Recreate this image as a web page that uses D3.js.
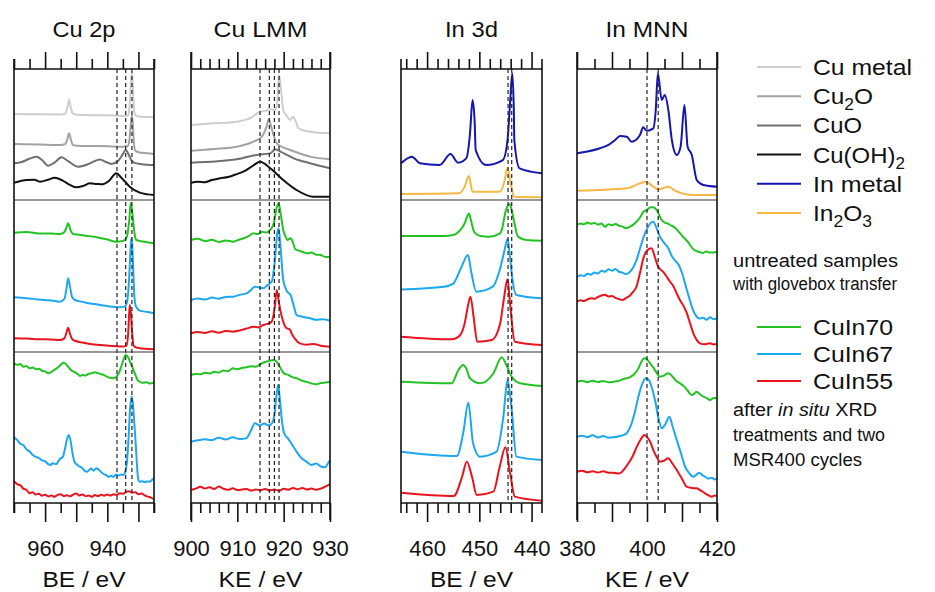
<!DOCTYPE html>
<html>
<head>
<meta charset="utf-8">
<script src="https://cdn.jsdelivr.net/npm/d3@7"></script>
<style>
  body { margin: 0; background: #fff; }
  svg { display: block; font-family: "Liberation Sans", Arial, Helvetica, sans-serif; }
</style>
</head>
<body>
<svg id="chart" width="935" height="592"></svg>
<script>
// ---------- Spectra: [energy (eV), stacked intensity (% of row height)] ----------

// Cu 2p – references
const cu2pCuMetal = [[970,65.6],[962,65.4],[955,65.3],[953.6,65.8],[952.9,70],[952.3,76.3],[951.7,70],[951.1,66],[949.5,65],[940,64.6],[935,64.2],[933.4,64.5],[932.9,70],[932.5,88],[932.1,97],[931.8,88],[931.5,72],[931.1,65],[930,63.8],[927,63.3],[925,63.1]];
const cu2pCu2O = [[970,42.7],[962,42.3],[955,42],[953.6,42.5],[952.9,46],[952.3,50.9],[951.7,46],[951.1,42],[949.5,41.5],[940,41],[935,40.7],[933.5,41],[932.9,46],[932.5,57],[932.1,64.9],[931.8,58],[931.5,45],[931.1,38],[930,36.5],[927,35.6],[925,35.1]];
const cu2pCuO = [[970,28],[967.5,29],[965,31.5],[962.7,33],[961,30.5],[959,26.2],[957,28.5],[954.7,32.6],[952.5,29.5],[949.4,25.4],[946,27.5],[942.4,31],[940.5,29],[938.7,27.5],[936.5,30],[935,35],[934.1,38.2],[933.2,35],[932.3,30.5],[931.5,28.5],[929,27.3],[925,26.7]];
const cu2pCuOH2 = [[970,13.2],[965.9,15.3],[963.5,15.5],[961.7,14],[959,15.5],[956.9,17],[954.5,15],[952,11.5],[949.9,9.7],[947.5,11],[945.6,12.7],[943.5,12.3],[941.4,12],[939.5,14.5],[937.1,20.4],[935.5,17],[932.8,10.2],[929.6,5.6],[927,4.3],[925,3.8]];
// Cu 2p – untreated samples
const cu2pIn70a = [[970,78.5],[966,78.9],[962,78],[958,77.9],[955.5,77.6],[954,78.5],[953.2,81.5],[952.6,84.7],[951.8,80],[951,77.6],[949,77.2],[947,76.5],[944.5,75.9],[942.4,75],[940,74],[937.1,72.6],[935,73],[934,74.5],[933.4,79],[932.9,88],[932.5,98.2],[932.1,94],[931.6,84],[931.1,76],[930.7,73.7],[928,72.5],[925,71.5]];
const cu2pIn67a = [[970,36],[966,35.4],[962,34.5],[958,33.9],[955.3,33.1],[953.8,35],[953.1,42],[952.6,48.5],[952,43],[951.3,36],[950.4,34.2],[948,33],[946,32],[944,31.6],[942.4,30.9],[939,30],[936,29.4],[934.3,30],[933.5,35],[933,48],[932.6,65],[932.3,74.8],[932,70],[931.6,50],[931.3,36],[930.8,30],[929.6,27.2],[927,26.3],[925,25.5]];
const cu2pIn55a = [[970,9],[966,8.8],[962,8.4],[958,8.2],[955.3,7.9],[953.8,9],[953.1,13],[952.6,16],[952,12],[951.3,8.5],[950.4,7.4],[948,6.2],[946,5.5],[942.4,4.6],[938,4],[935,3.6],[933.9,4],[933.3,12],[932.8,30.9],[932.4,25],[932,12],[931.5,4],[930,2.6],[925,1.8]];
// Cu 2p – after treatments
const cu2pIn70b = [[970,92.5],[969,91.5],[968,92],[967,90.2],[966,90.8],[965,89.2],[964,89.8],[963,88.6],[962,88.9],[961,87.6],[960,87.2],[959,85.9],[958,86.8],[957,88.2],[956,89.6],[955,91.5],[954.2,92.9],[953.5,92.4],[952.5,90],[951.5,87.8],[950.5,86.6],[949.5,85.4],[948.8,84.1],[948,84.8],[947,84.4],[946,85.6],[945,85.9],[944,86.6],[943,86],[942,85.3],[941,84.7],[940,83.5],[939,82.9],[938.2,82.6],[937.2,83.5],[936.3,86],[935.5,90.5],[934.8,95],[934.1,98],[933.3,96.5],[932.6,93],[931.8,89.2],[931,85],[930.3,81.5],[929.6,80.3],[928.5,79.6],[927.5,80],[926.5,79.2],[925,79.6]];
const cu2pIn67b = [[970,43.5],[969,41.8],[968,39.2],[967,38.4],[966,35.5],[965,34.2],[964,31.8],[963,30.6],[962,29.8],[961,28.2],[960,27.6],[959,25.8],[958.3,25.2],[957.5,26.4],[956.5,25.6],[955.8,27.5],[955,29.6],[954.3,30.5],[953.6,36],[953,42],[952.4,45],[951.8,41],[951.2,33],[950.5,27],[949.8,25.6],[949,24.2],[948.2,23.4],[947.4,21.6],[946.7,20.7],[946,21.5],[945.2,22.8],[944.4,21.4],[943.6,23],[942.8,22.2],[942,20.5],[941.2,19.2],[940.4,18.6],[939.6,17.2],[938.8,18],[938,17.4],[937.2,18.8],[936.4,18.2],[935.6,18.9],[934.8,18.6],[934.2,21],[933.7,27],[933.2,42],[932.7,62],[932.2,70.4],[931.8,66],[931.3,52],[930.9,40],[930.5,26],[930.1,16],[929.6,14.1],[928.8,14.4],[928,13.8],[927.2,14.3],[926.4,14.1],[925.7,15.2],[925,16.4]];
const cu2pIn55b = [[970,14.5],[969,12.5],[968,11.8],[967,9.5],[966,8.8],[965,6.4],[964,7.2],[963,5.6],[962,6.1],[961,4.8],[960,5.5],[959,4.3],[958,5],[957,4.1],[956,5.4],[955,5.8],[954,4.6],[953,5.2],[952,4.4],[951,5.6],[950,6.3],[949,5],[948,5.7],[947,4.5],[946,4.9],[945,4.1],[944,5.3],[943,4.6],[942,5.5],[941,4.8],[940,5.6],[939,4.9],[938,5.8],[937,5.2],[936,6.4],[935,6.1],[934,7.4],[933,7.8],[932,6.9],[931,7.2],[930,5.8],[929,6.3],[928,5.1],[927,4.2],[926,3.6],[925,2.5]];

// Cu LMM – references
const lmmCuMetal = [[900,57.3],[905,58.5],[909.9,59.8],[913.1,63.1],[914.9,67.4],[916,68],[917.1,69.2],[918.2,68.5],[918.6,75],[919,95.4],[919.5,82],[919.9,68.7],[920.7,64],[921.4,61],[922,63.6],[922.6,60],[923.2,54.7],[925.7,52.1],[930,50.9]];
const lmmCu2O = [[900,37.6],[905,39],[909.9,40.7],[913.5,44.5],[915.3,48.3],[916.3,56],[916.8,61.6],[917.4,54.7],[918.5,43.3],[920,40],[921.4,38.2],[925.7,33.1],[930,31.1]];
const lmmCuO = [[900,28.5],[909.9,31.1],[914.2,34.4],[917.1,35.6],[918.2,38.7],[919.3,36.9],[922.2,31.8],[925.7,28],[930,24.2]];
const lmmCuOH2 = [[900,13.2],[901.5,14],[903,13.6],[904.5,15.2],[906.3,16.6],[908,17.5],[909.5,19.3],[911.3,21.6],[913.5,26.5],[914.9,29.2],[917.1,24.2],[919.9,15.3],[922.8,7.6],[926.4,2.5],[930,2.5]];
// Cu LMM – untreated samples
const lmmIn70a = [[900,73.7],[901.5,74.5],[903,72.9],[904.5,73.8],[906,72.4],[907.5,73.4],[909.1,72.6],[910.3,73.8],[911.5,75],[912.5,76.4],[913.5,78.1],[914.4,77.6],[915.3,79.1],[916.2,78.6],[917.1,80.3],[917.9,85],[918.5,95],[918.9,97.8],[919.4,90],[919.9,80.3],[920.4,76],[920.8,73.7],[921.5,74.8],[922,72],[922.5,67.6],[923.5,66.5],[924.3,65.6],[925,64.9],[926,65.4],[927,64],[928,63.8],[929,62.5],[930,62.7]];
const lmmIn67a = [[900,34.2],[901.5,35.2],[903,34.5],[904.5,35.8],[906,35.1],[907.5,36.2],[909.1,36.4],[910.5,37.6],[912,38.6],[913,41],[913.8,43],[914.7,42.5],[915.6,41.9],[916.5,44],[917.4,46.2],[918.1,60],[918.6,78],[918.9,81.4],[919.3,70],[919.9,47.4],[920.7,40],[921.5,37.5],[922.2,30],[922.8,24.3],[923.6,23.5],[924.5,22.8],[925.7,22.2],[927,21.2],[928.5,21.6],[930,20.6]];
const lmmIn55a = [[900,12.3],[901.5,13.1],[903,12.5],[904.5,13.6],[906,12.7],[907.5,13.8],[909.1,13.4],[910.5,14.2],[912,15.4],[913.5,16.6],[914.5,16.2],[915.6,17.8],[916.5,18.5],[917.4,19.9],[918.1,30],[918.5,40.8],[919,32],[919.6,23.2],[920.5,16],[921.4,14.5],[921.7,12.3],[922.5,8.5],[923.5,5.7],[925,4.8],[926.5,5.3],[928,4.1],[930,3.5]];
// Cu LMM – after treatments
const lmmIn70b = [[900,84.8],[901,85.5],[902,85.2],[903,86.3],[904,85.8],[905,86.9],[906,86.4],[907,87.8],[908,87.2],[909,89.2],[910,88.6],[911,89.4],[912,89.9],[913,90.6],[914,90.2],[915,92.1],[916,93.4],[917,94.2],[917.8,94.7],[918.5,93.5],[919.2,90],[920,86],[921,84.8],[922,83.2],[923,82.4],[924,81],[925,80.2],[926,79.2],[927,78.6],[928,79.4],[929,79.8],[930,80.3]];
const lmmIn67b = [[900,40.6],[901.5,41.5],[903,42.2],[904.5,41.6],[906,43.2],[907.5,42.1],[909,43.6],[910.5,42.4],[911.9,42.8],[912.8,47],[913.8,52.8],[914.8,51.4],[915.8,52.6],[916.8,51.3],[917.5,53],[918,58],[918.4,70],[918.8,78.1],[919.2,68],[919.6,55],[920.1,46.2],[921,42.5],[922.1,37.3],[923,33],[923.8,29.8],[924.8,27.6],[926,25.2],[927,26.1],[928,24.2],[928.9,23.6],[929.5,25.8],[930,28.5]];
const lmmIn55b = [[900,8.6],[901,9.5],[902,10.8],[903,9.6],[904,10.4],[905,9.2],[906,10.9],[907,9.4],[908,8.7],[909,9.8],[910,8.6],[911,8.9],[912,9.3],[913,8.2],[914,8.9],[915,8.5],[916,9.2],[917,8.3],[918,8.9],[919,8.1],[920,9.4],[921,8.8],[922,9.9],[923,9.1],[924,10],[925,8.9],[926,9.6],[927,8.8],[928,9.5],[929,10.8],[930,12.6]];

// In 3d – references
const in3dInMetal = [[465,28],[462.9,33.1],[461.4,28],[457.6,26.7],[455.5,35.1],[454.1,28.5],[452.5,31.8],[451.8,50],[451.3,76.3],[450.9,60],[450.7,38.2],[448.7,26.7],[445.5,30.5],[444.6,45.8],[444.1,75],[443.7,96.7],[443.4,70],[443.3,45.8],[442.3,24.2],[438,20.4]];
const in3dIn2O3 = [[465,4.6],[453.8,5.1],[452.8,10.2],[452,18.3],[451.3,6.3],[446.1,6.3],[445.2,14],[444.6,24.7],[443.9,10.2],[443.3,2.5],[438,2.1]];
// In 3d – untreated samples
const in3dIn70a = [[465,76.3],[456.7,76.3],[455,77],[452.8,84.7],[452,91.2],[451.7,88],[451,79.1],[450,76.5],[448.1,75.9],[446,78],[445.7,80.3],[444.9,93.4],[444.2,97.4],[443.6,90.1],[442.6,75.9],[441,73.7],[438,73.2]];
const in3dIn67a = [[465,41.2],[456.7,43],[455,45],[453.4,56.1],[452.2,63.8],[451.5,51.8],[450.6,39.7],[447.4,43],[446.1,53.9],[445.3,65],[444.6,74.1],[444.2,65],[443.8,51.8],[442.9,37.5],[438,35.3]];
const in3dIn55a = [[465,10.1],[455.4,8.4],[454,10],[452.8,18.9],[452.2,30],[451.7,36.4],[451.1,23.2],[450.4,6.8],[447.6,7.9],[446,18.9],[445.3,35],[444.6,47.8],[444.2,35],[444,27.6],[443.2,6.8],[438,4.6]];
// In 3d – after treatments
const in3dIn70b = [[465,80.3],[455.3,79.3],[454,88.1],[453.1,91.4],[452.5,89],[451.8,82.6],[449.8,79.3],[447.3,85.9],[445.7,96.5],[444.7,90.3],[443.8,83.6],[442.2,79.3],[438,77.5]];
const in3dIn67b = [[465,34],[454.3,31.1],[453.1,46.2],[452.1,66.4],[451.2,39.5],[449.9,30.7],[446.7,34],[445.4,57.2],[444.6,81.5],[443.8,61.6],[442.9,30.7],[438,28.5]];
const in3dIn55b = [[465,6.8],[454.9,4.6],[453.3,17.4],[452.4,27.4],[451.4,17.4],[450.5,5.3],[447.3,7.5],[446.1,24],[445,36.9],[444.1,19.7],[443.2,4.2],[438,1.5]];

// In MNN – references
const mnnInMetal = [[380,35.6],[383,37],[386.6,39.5],[389,42],[390.9,45.8],[392.3,48.9],[394.2,48.3],[395.6,44.5],[398,49.6],[398.9,55.5],[399.9,52.9],[401.8,54.7],[402.5,68.7],[403.1,96.7],[404.2,76.3],[405.1,80.2],[406.1,68.7],[407.1,45.8],[408.5,34.4],[409.6,40.7],[410.7,72.5],[411.6,40.7],[412.8,34.4],[414.2,15.3],[416.1,11.5],[420,10.2]];
const mnnIn2O3 = [[380,7.1],[394.2,8.9],[398,12.7],[399.7,14],[401.8,10.2],[403.2,8.2],[406.1,10.2],[408,7.1],[413.2,3.8],[420,3.8]];
// In MNN – untreated samples
const mnnIn70a = [[380,83.6],[381,84.5],[382,84],[383,85.2],[384,84.3],[385,84.9],[386,83.8],[387,84.6],[388,82.4],[389,84.1],[390,83.4],[391,84.2],[392,83.1],[393,82.5],[394,81.4],[395,82.3],[396,83.6],[397,85.7],[398,88.5],[399,92.3],[400,93.5],[401,95.2],[402,95],[403,92.4],[404,87.5],[405,85.2],[406,84.4],[407,83.1],[408,81.8],[409,79.2],[410,76.6],[411,74.2],[412,71.5],[413,68.2],[414,66.5],[415,65.8],[416,65.2],[417,66.1],[418,65.4],[419,65.5],[420,66]];
const mnnIn67a = [[380,49.1],[381,50.5],[382,50],[383,51.4],[384,50.9],[385,52.3],[386,51.6],[387,53.4],[388,52.8],[389,54.4],[390,53.5],[391,54.6],[392,52.8],[393,52.2],[394,51.3],[395,52.5],[396,55.5],[397,60.5],[398,68],[399,75.5],[400,81],[401,84.8],[401.8,85.7],[402.8,81],[403.7,75.9],[405,71.5],[406,68.6],[407,63.5],[408,60.2],[409,57.5],[410,52],[411,44],[412,36],[413,28.6],[414,23.8],[415,22],[416,22.6],[417,21.2],[418,22.8],[419,21.6],[420,22.2]];
const mnnIn55a = [[380,33.1],[381,34],[382,33.5],[383,34.6],[384,35.4],[385,35],[386,36.2],[387,37.2],[388,37.6],[389,36.5],[390,36.9],[391,35.6],[392,34.8],[393,34.2],[394,35.5],[395,36.8],[396,39.5],[397,43],[398,52],[399,62],[400,66.8],[401.3,68.2],[402.3,62],[403.2,56.1],[404.5,53],[405.5,50],[406.6,46.2],[407.5,43.5],[408.5,38.5],[409.4,34.2],[410.5,30],[411.3,26],[412.3,18.9],[413.3,12],[414.2,8],[415.1,5.7],[416.5,5.1],[418,5.8],[419,5],[420,5.3]];
// In MNN – after treatments
const mnnIn70b = [[380,80.3],[381.5,80.9],[383,80],[384.5,81],[386,80.1],[387.5,80.8],[389,79.9],[390.4,80.3],[392,81],[393.5,82.3],[395,83.2],[396.1,84.8],[397.5,89],[398.4,93.6],[399.2,95.8],[400,95],[400.9,92.5],[402,89],[403,85.5],[403.7,83.6],[404.8,84.4],[406.1,85.9],[407.2,84],[408.3,81],[409.4,79.3],[410.5,77.4],[411.6,74.5],[412.8,71.5],[413.5,72.4],[414.2,73.7],[415.1,72],[416.1,70.4],[417,69.6],[418,68.2],[419,69.6],[420,69.3]];
const mnnIn67b = [[380,43.9],[381.5,44.6],[383,43.6],[384.5,44.8],[386,43.4],[387.5,44.3],[389,43.2],[390.4,43.5],[392,44.2],[393.2,44.9],[394.2,46.2],[395.5,52],[396.5,60],[397.5,70],[398.5,78],[399.6,82.6],[400.5,81.5],[401.3,77],[402.3,68],[403.3,56],[404.2,49.5],[405.2,52],[406.4,57.2],[407.4,50],[408.5,41.7],[409.7,33],[410.9,24],[412,20],[413.2,17.4],[414,18.5],[414.9,20.1],[415.8,18.5],[416.6,17.4],[417.5,16.2],[418.5,16.8],[419.3,15.6],[420,16.4]];
const mnnIn55b = [[380,20.7],[381.5,21.4],[383,20.3],[384.5,21.1],[386,20.2],[387.5,21],[389,20.1],[390.4,20.1],[391.5,19.6],[392.3,19.7],[393.5,22.5],[394.7,26.3],[395.9,31],[397.1,37.3],[398.2,42],[399.2,45],[400.1,43.5],[400.9,40.6],[402,34],[403,29.5],[403.7,27.4],[404.8,28],[406.1,29.6],[407.3,26],[408.5,21.9],[410,16],[411.3,10.8],[412.8,9.9],[414.2,9.7],[415.4,8.2],[416.6,6.4],[417.6,5.1],[418.5,4.2],[419.3,5],[420,4.6]];

// ---------- Axes: energy ranges, ticks, labels, reference energies ----------
const titles = ["Cu 2p", "Cu LMM", "In 3d", "In MNN"];
const axisTitles = ["BE / eV", "KE / eV", "BE / eV", "KE / eV"];
const domains = [[970, 925], [900, 930], [465, 438], [380, 420]];
const majorTicks = [[960, 950, 940, 930], [900, 910, 920, 930], [460, 450, 440], [380, 390, 400, 410, 420]];
const minorTicks = [[970, 965, 955, 945, 935, 925], [902, 904, 906, 908, 912, 914, 916, 918, 922, 924, 926, 928], [464, 462, 458, 456, 454, 452, 448, 446, 444, 442], [385, 395, 405, 415]];
const tickLabels = [[960, 940], [900, 910, 920, 930], [460, 450, 440], [380, 400, 420]];
const refLines = [[936.9, 934.1, 932.1], [914.9, 916.9, 918.0, 919.0], [444.5, 443.8], [400.0, 403.2]];

const refNames = ["Cu metal", "Cu2O", "CuO", "Cu(OH)2", "In metal", "In2O3"];
const sampleNames = ["CuIn70", "CuIn67", "CuIn55"];

// ---------- Styling ----------
const colors = {
  cuMetal: "#cdcdcd", cu2O: "#a3a3a3", cuO: "#707070", cuOH2: "#111111",
  inMetal: "#1515b0", in2O3: "#f6b845",
  in70: "#22c322", in67: "#1ca7ef", in55: "#e8141e"
};

const series = [
  [ [cu2pCuMetal, 0, colors.cuMetal], [cu2pCu2O, 0, colors.cu2O], [cu2pCuO, 0, colors.cuO], [cu2pCuOH2, 0, colors.cuOH2],
    [cu2pIn70a, 1, colors.in70], [cu2pIn67a, 1, colors.in67], [cu2pIn55a, 1, colors.in55],
    [cu2pIn70b, 2, colors.in70], [cu2pIn67b, 2, colors.in67], [cu2pIn55b, 2, colors.in55] ],
  [ [lmmCuMetal, 0, colors.cuMetal], [lmmCu2O, 0, colors.cu2O], [lmmCuO, 0, colors.cuO], [lmmCuOH2, 0, colors.cuOH2],
    [lmmIn70a, 1, colors.in70], [lmmIn67a, 1, colors.in67], [lmmIn55a, 1, colors.in55],
    [lmmIn70b, 2, colors.in70], [lmmIn67b, 2, colors.in67], [lmmIn55b, 2, colors.in55] ],
  [ [in3dInMetal, 0, colors.inMetal], [in3dIn2O3, 0, colors.in2O3],
    [in3dIn70a, 1, colors.in70], [in3dIn67a, 1, colors.in67], [in3dIn55a, 1, colors.in55],
    [in3dIn70b, 2, colors.in70], [in3dIn67b, 2, colors.in67], [in3dIn55b, 2, colors.in55] ],
  [ [mnnInMetal, 0, colors.inMetal], [mnnIn2O3, 0, colors.in2O3],
    [mnnIn70a, 1, colors.in70], [mnnIn67a, 1, colors.in67], [mnnIn55a, 1, colors.in55],
    [mnnIn70b, 2, colors.in70], [mnnIn67b, 2, colors.in67], [mnnIn55b, 2, colors.in55] ]
];

// ---------- Layout ----------
const panelX = [[14, 154], [191, 330], [401, 542], [577, 717]];
const edgeTickLen = [10, 17, 10, 17];
const rowBands = [[69, 200], [200, 352], [352, 503]];
const frameTop = 69, frameBottom = 503;
const majorLenTop = 17, minorLenTop = 10, majorLenBottom = 19, minorLenBottom = 10;
const titleWidths = [63, 94, 53, 83];
const axisTitleWidths = [83, 84, 83, 84];

const svg = d3.select("#chart");

titles.forEach((title, i) => {
  const x = d3.scaleLinear().domain(domains[i]).range(panelX[i]);
  const ys = rowBands.map(([t, b]) => d3.scaleLinear().domain([0, 100]).range([b, t]));
  const g = svg.append("g");
  const [x0, x1] = panelX[i];

  // panel title
  g.append("text").attr("x", (x0 + x1) / 2).attr("y", 37)
    .attr("text-anchor", "middle").attr("font-size", 21.5).attr("fill", "#111")
    .attr("textLength", titleWidths[i]).attr("lengthAdjust", "spacingAndGlyphs").text(title);

  // spectra
  series[i].forEach(([data, row, color]) => {
    const pts = data.slice().sort((a, b) => x(a[0]) - x(b[0]));
    const line = d3.line().x(d => x(d[0])).y(d => ys[row](d[1])).curve(d3.curveMonotoneX);
    g.append("path").attr("d", line(pts)).attr("fill", "none")
      .attr("stroke", color).attr("stroke-width", 2).attr("stroke-linejoin", "round");
  });

  // reference energies
  refLines[i].forEach(e => {
    g.append("line").attr("x1", x(e)).attr("x2", x(e)).attr("y1", frameTop).attr("y2", frameBottom)
      .attr("stroke", "#222").attr("stroke-width", 1.2).attr("stroke-dasharray", "4,3");
  });

  // row separators
  [200, 352].forEach(yy => {
    g.append("line").attr("x1", x0).attr("x2", x1).attr("y1", yy).attr("y2", yy)
      .attr("stroke", "#333").attr("stroke-width", 1.2);
  });

  // frame (sides extend as edge ticks)
  [x0, x1].forEach(xx => {
    g.append("line").attr("x1", xx).attr("x2", xx)
      .attr("y1", frameTop - edgeTickLen[i]).attr("y2", frameBottom + edgeTickLen[i])
      .attr("stroke", "#111").attr("stroke-width", 1.6);
  });

  // top and bottom axes
  const topMajor = d3.axisTop(x).tickValues(majorTicks[i]).tickSize(majorLenTop).tickSizeOuter(0).tickFormat("");
  const topMinor = d3.axisTop(x).tickValues(minorTicks[i]).tickSize(minorLenTop).tickSizeOuter(0).tickFormat("");
  const bottomMajor = d3.axisBottom(x).tickValues(majorTicks[i]).tickSize(majorLenBottom).tickSizeOuter(0)
    .tickPadding(18).tickFormat(d => tickLabels[i].includes(d) ? d : "");
  const bottomMinor = d3.axisBottom(x).tickValues(minorTicks[i]).tickSize(minorLenBottom).tickSizeOuter(0).tickFormat("");

  [[topMajor, frameTop], [topMinor, frameTop], [bottomMajor, frameBottom], [bottomMinor, frameBottom]].forEach(([ax, yy]) => {
    const a = g.append("g").attr("transform", `translate(0,${yy})`).call(ax);
    a.select(".domain").remove();
    a.selectAll(".tick line").attr("stroke", "#111").attr("stroke-width", 1.6);
    a.selectAll(".tick text").attr("font-size", 22).attr("fill", "#111")
      .attr("font-family", "'Liberation Sans', Arial, sans-serif");
  });

  // horizontal frame lines
  [frameTop, frameBottom].forEach(yy => {
    g.append("line").attr("x1", x0).attr("x2", x1).attr("y1", yy).attr("y2", yy)
      .attr("stroke", "#111").attr("stroke-width", 1.6);
  });

  // axis title
  g.append("text").attr("x", (x0 + x1) / 2).attr("y", 587)
    .attr("text-anchor", "middle").attr("font-size", 22).attr("fill", "#111")
    .attr("textLength", axisTitleWidths[i]).attr("lengthAdjust", "spacingAndGlyphs").text(axisTitles[i]);
});

// ---------- Legends ----------
const legend = svg.append("g");
const refColors = [colors.cuMetal, colors.cu2O, colors.cuO, colors.cuOH2, colors.inMetal, colors.in2O3];
const refLabelWidths = [99, 60, 49, 92, 89, 59];

function addChem(textSel, name) {
  // digits are written as subscripts
  const parts = name.match(/[0-9]+|[^0-9]+/g);
  let shifted = false;
  parts.forEach(p => {
    const isSub = /^[0-9]+$/.test(p);
    const t = textSel.append("tspan").text(p);
    if (isSub) { t.attr("font-size", 16).attr("dy", 6); shifted = true; }
    else if (shifted) { t.attr("dy", -6); shifted = false; }
  });
}

refNames.forEach((name, k) => {
  const yy = 67 + k * 29.2;
  legend.append("line").attr("x1", 757).attr("x2", 801).attr("y1", yy).attr("y2", yy)
    .attr("stroke", refColors[k]).attr("stroke-width", 2);
  const t = legend.append("text").attr("x", 813).attr("y", yy + 8).attr("font-size", 22.5).attr("fill", "#111")
    .attr("textLength", refLabelWidths[k]).attr("lengthAdjust", "spacingAndGlyphs");
  addChem(t, name);
});

const sampleColors = [colors.in70, colors.in67, colors.in55];
sampleNames.forEach((name, k) => {
  const yy = 327 + k * 27;
  legend.append("line").attr("x1", 757).attr("x2", 801).attr("y1", yy).attr("y2", yy)
    .attr("stroke", sampleColors[k]).attr("stroke-width", 2);
  legend.append("text").attr("x", 813).attr("y", yy + 7.5).attr("font-size", 21.5).attr("fill", "#111")
    .attr("textLength", 80).attr("lengthAdjust", "spacingAndGlyphs").text(name);
});

const noteA = [["untreated samples", 165], ["with glovebox transfer", 164]];
noteA.forEach(([s, w], k) => {
  legend.append("text").attr("x", 733).attr("y", 267 + k * 22.5).attr("font-size", 18).attr("fill", "#111")
    .attr("textLength", w).attr("lengthAdjust", "spacingAndGlyphs").text(s);
});
const noteB = legend.append("text").attr("x", 733).attr("y", 416).attr("font-size", 18).attr("fill", "#111")
  .attr("textLength", 144).attr("lengthAdjust", "spacingAndGlyphs");
noteB.append("tspan").text("after ");
noteB.append("tspan").attr("font-style", "italic").text("in situ");
noteB.append("tspan").text(" XRD");
[["treatments and two", 152], ["MSR400 cycles", 129]].forEach(([s, w], k) => {
  legend.append("text").attr("x", 733).attr("y", 441 + k * 25).attr("font-size", 18).attr("fill", "#111")
    .attr("textLength", w).attr("lengthAdjust", "spacingAndGlyphs").text(s);
});
</script>
</body>
</html>
